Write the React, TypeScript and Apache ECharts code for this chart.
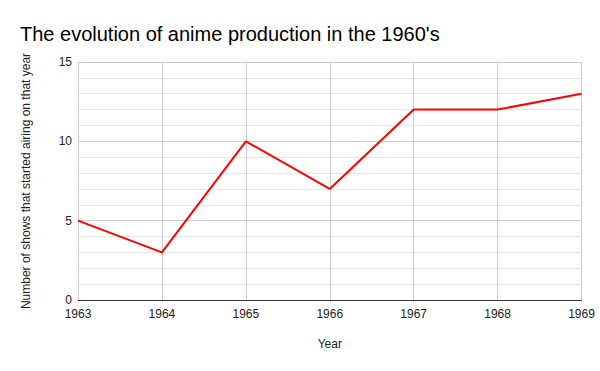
import React, { useEffect, useRef } from "react";
import * as echarts from "echarts";

const years = ["1963", "1964", "1965", "1966", "1967", "1968", "1969"];
const shows = [5, 3, 10, 7, 12, 12, 13];
const yTicks = { min: 0, max: 15, interval: 5 };

const FONT = "'Liberation Sans', Arial, sans-serif";

export default function App() {
  const ref = useRef<HTMLDivElement>(null);
  useEffect(() => {
    const chart = echarts.init(ref.current!, null, { renderer: "svg" });
    chart.setOption({
      animation: false,
      backgroundColor: "#fff",
      textStyle: { fontFamily: FONT },
      title: {
        text: "The evolution of anime production in the 1960's",
        left: 15,
        top: 19,
        textStyle: { fontSize: 20, fontWeight: "normal", color: "#000", fontFamily: FONT },
      },
      grid: { left: 78, right: 18.5, top: 62, bottom: 71 },
      xAxis: {
        type: "category",
        data: years,
        boundaryGap: false,
        name: "Year",
        nameLocation: "middle",
        nameGap: 38,
        nameTextStyle: { fontSize: 12, color: "#222", fontFamily: FONT },
        axisLine: { lineStyle: { color: "#333", width: 1 } },
        axisTick: { show: false },
        axisLabel: { fontSize: 12, color: "#222", margin: 8, fontFamily: FONT },
        splitLine: { show: true, lineStyle: { color: "#cccccc", width: 1 } },
      },
      yAxis: {
        type: "value",
        min: yTicks.min,
        max: yTicks.max,
        interval: yTicks.interval,
        name: "Number of shows that started airing on that year",
        nameLocation: "middle",
        nameGap: 46,
        nameTextStyle: { fontSize: 12, color: "#222", fontFamily: FONT },
        axisLine: { show: false },
        axisTick: { show: false },
        axisLabel: { fontSize: 12, color: "#222", margin: 6, fontFamily: FONT },
        splitLine: { show: true, lineStyle: { color: "#cccccc", width: 1 } },
        minorTick: { show: false, splitNumber: 5 },
        minorSplitLine: { show: true, lineStyle: { color: "#e6e6e6", width: 1 } },
      },
      series: [
        {
          type: "line",
          data: shows,
          symbol: "none",
          lineStyle: { color: "#ff0000", width: 2 },
          itemStyle: { color: "#ff0000" },
        },
      ],
    });
    return () => chart.dispose();
  }, []);
  return <div ref={ref} style={{ width: 600, height: 371, position: "absolute", left: 0, top: 0 }} />;
}
